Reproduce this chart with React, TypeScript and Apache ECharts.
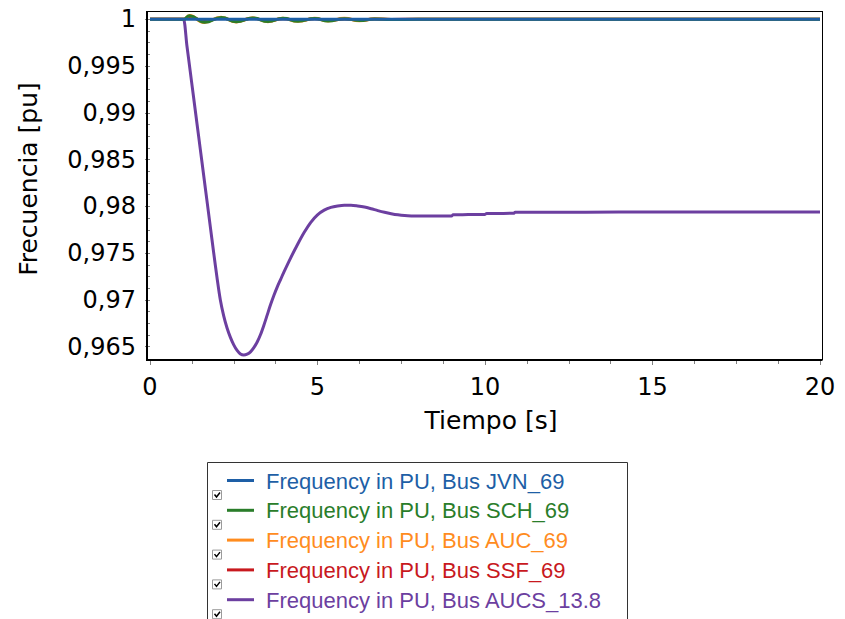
import React, { useEffect, useRef } from "react";
import * as echarts from "echarts";

// Tick setup
const xMin = 0;
const xMax = 20;
const xInterval = 5;
const yMin = 0.965;
const yMax = 1;
const yInterval = 0.005;

// Series names (legend order) and colours
const seriesNames = [
  "Frequency in PU, Bus JVN_69",
  "Frequency in PU, Bus SCH_69",
  "Frequency in PU, Bus AUC_69",
  "Frequency in PU, Bus SSF_69",
  "Frequency in PU, Bus AUCS_13.8",
];
const seriesColors = ["#1e5fa6", "#2a7d2a", "#ff8c1e", "#c8191e", "#6c3fa0"];

// Bus JVN_69
const timeJVN = [0, 20];
const freqJVN = [1, 1];

// Bus SCH_69
const timeSCH = [0, 0.95, 1.0, 1.185, 1.63, 2.13, 2.58, 3.07, 3.53, 3.97, 4.42, 4.92, 5.32, 5.81, 6.26, 6.7, 7.2, 8, 20];
const freqSCH = [1, 1, 1, 1.00038, 0.99968, 1.0002, 0.99973, 1.00014, 0.99976, 1.0001, 0.9998, 1.00008, 0.99982, 1.00007, 0.99986, 1.00004, 0.99998, 1, 1];

// Bus AUC_69
const timeAUC = [0, 0.95, 1.0, 1.18, 1.62, 2.12, 2.57, 3.06, 3.52, 3.96, 4.41, 4.91, 5.31, 5.8, 6.25, 6.7, 7.2, 8, 20];
const freqAUC = [1, 1, 1, 1.00041, 0.99967, 1.00022, 0.99972, 1.00015, 0.99975, 1.00011, 0.99979, 1.0001, 0.99981, 1.00011, 0.99984, 1.00007, 0.99997, 1, 1];

// Bus SSF_69
const timeSSF = [0, 0.95, 1.0, 1.185, 1.63, 2.13, 2.58, 3.07, 3.53, 3.97, 4.42, 4.92, 5.32, 5.81, 6.26, 6.7, 7.2, 8, 20];
const freqSSF = [1, 1, 1, 1.00026, 0.99978, 1.00014, 0.99981, 1.0001, 0.99983, 1.00007, 0.99986, 1.00005, 0.99988, 1.00004, 0.9999, 1.00002, 0.99999, 1, 1];

// Bus AUCS_13.8
const timeAUCS = [
  0, 0.95, 1.0, 1.1, 1.2, 1.3, 1.4, 1.5, 1.6, 1.7, 1.8, 1.9,
  2.0, 2.1, 2.2, 2.3, 2.4, 2.5, 2.6, 2.7, 2.8, 2.9,
  3.0, 3.1, 3.2, 3.3, 3.4, 3.5, 3.6, 3.7, 3.8, 3.9,
  4.0, 4.2, 4.4, 4.6, 4.8, 5.0, 5.2, 5.4, 5.6, 5.8,
  6.0, 6.2, 6.4, 6.6, 6.8, 7.0, 7.2, 7.4, 7.6, 7.8,
  8.0, 8.5, 9.0, 9.05, 9.5, 10.0, 10.05, 10.4, 10.85, 10.9, 12, 14, 16, 18, 20,
];
const freqAUCS = [
  1, 1, 1, 0.99723, 0.99446, 0.99169, 0.98892, 0.98615, 0.98338, 0.98061, 0.97784, 0.97507,
  0.9724, 0.97, 0.9683, 0.967, 0.966, 0.9652, 0.9646, 0.96422, 0.96411, 0.9642,
  0.96445, 0.9649, 0.9655, 0.9663, 0.9673, 0.9684, 0.9695, 0.9705, 0.9714, 0.9722,
  0.973, 0.9745, 0.9759, 0.9772, 0.9783, 0.9791, 0.9796, 0.9799, 0.98005, 0.98013,
  0.98013, 0.98005, 0.97993, 0.97975, 0.97955, 0.97937, 0.97922, 0.9791, 0.97902, 0.97898,
  0.97897, 0.97897, 0.97897, 0.97911, 0.97912, 0.97914, 0.97924, 0.97925, 0.97926, 0.97937, 0.97938, 0.97939, 0.97939, 0.97939, 0.97939,
];

const zip = (t: number[], v: number[]) => t.map((x, i) => [x, v[i]]);

const seriesTimes = [timeJVN, timeSCH, timeAUC, timeSSF, timeAUCS];
const seriesValues = [freqJVN, freqSCH, freqAUC, freqSSF, freqAUCS];

const AXIS_FONT = "'DejaVu Sans', sans-serif";
const LEGEND_FONT = "'Liberation Sans', Arial, sans-serif";

function buildLegend(): any[] {
  const els: any[] = [
    {
      type: "rect",
      shape: { x: 207.5, y: 462.5, width: 420, height: 200 },
      style: { fill: "#fff", stroke: "#333", lineWidth: 1 },
      z: 10,
    },
  ];
  seriesNames.forEach((name, i) => {
    const cy = 480.5 + i * 29.8;
    els.push({
      type: "line",
      shape: { x1: 227, y1: cy, x2: 254, y2: cy },
      style: { stroke: seriesColors[i], lineWidth: 3 },
      z: 11,
    });
    els.push({
      type: "text",
      x: 266,
      y: cy + 0.5,
      style: {
        text: name,
        fill: seriesColors[i],
        font: `22px ${LEGEND_FONT}`,
        align: "left",
        verticalAlign: "middle",
      },
      z: 11,
    });
    const by = cy + 10;
    els.push({
      type: "rect",
      shape: { x: 212.5, y: by, width: 9, height: 9 },
      style: { fill: "#fff", stroke: "#9a9a9a", lineWidth: 1 },
      z: 11,
    });
    els.push({
      type: "polyline",
      shape: { points: [[214.5, by + 4], [216.5, by + 6.5], [220, by + 2]] },
      style: { stroke: "#000", lineWidth: 1.5, fill: null },
      z: 12,
    });
  });
  return els;
}

function buildFrame(): any[] {
  return [
    { type: "line", shape: { x1: 147, y1: 11, x2: 147, y2: 361 }, style: { stroke: "#000", lineWidth: 2 }, z: 20 },
    { type: "line", shape: { x1: 146, y1: 360, x2: 822.5, y2: 360 }, style: { stroke: "#000", lineWidth: 2 }, z: 20 },
    { type: "line", shape: { x1: 147, y1: 11.5, x2: 822.5, y2: 11.5 }, style: { stroke: "#000", lineWidth: 1 }, z: 20 },
    { type: "line", shape: { x1: 822.5, y1: 11, x2: 822.5, y2: 360 }, style: { stroke: "#000", lineWidth: 1 }, z: 20 },
    {
      type: "text",
      x: 28.5,
      y: 179,
      rotation: Math.PI / 2,
      style: {
        text: "Frecuencia [pu]",
        fill: "#000",
        font: `25px ${AXIS_FONT}`,
        align: "center",
        verticalAlign: "middle",
      },
    },
    {
      type: "text",
      x: 491,
      y: 420,
      style: {
        text: "Tiempo [s]",
        fill: "#000",
        font: `25px ${AXIS_FONT}`,
        align: "center",
        verticalAlign: "middle",
      },
    },
  ];
}

export default function App() {
  const ref = useRef<HTMLDivElement>(null);

  useEffect(() => {
    document.body.style.margin = "0";
    if (!ref.current) return;
    const chart = echarts.init(ref.current, undefined, { renderer: "svg" });

    const drawOrder = [6, 5, 4, 3, 2];
    const series = seriesNames.map((name, i) => ({
      name,
      type: "line",
      data: zip(seriesTimes[i], seriesValues[i]),
      showSymbol: false,
      smooth: i === 0 ? false : i === 4 ? 0.3 : 0.5,
      clip: false,
      z: drawOrder[i],
      lineStyle: { color: seriesColors[i], width: 3 },
      itemStyle: { color: seriesColors[i] },
    }));

    chart.setOption({
      animation: false,
      backgroundColor: "#fff",
      grid: { left: 150, right: 25, top: 19.3, bottom: 272.3, containLabel: false },
      xAxis: {
        type: "value",
        min: xMin,
        max: xMax,
        interval: xInterval,
        offset: 13.3,
        axisLine: { show: false },
        axisTick: { show: true, length: 5, lineStyle: { color: "#808080", width: 1 } },
        minorTick: { show: true, splitNumber: 4, length: 4, lineStyle: { color: "#808080", width: 1 } },
        splitLine: { show: false },
        axisLabel: {
          margin: 15,
          fontFamily: AXIS_FONT,
          fontSize: 24,
          color: "#000",
        },
      },
      yAxis: {
        type: "value",
        min: yMin,
        max: yMax,
        interval: yInterval,
        offset: 3,
        axisLine: { show: false },
        axisTick: { show: true, length: 5, lineStyle: { color: "#808080", width: 1 } },
        minorTick: { show: true, splitNumber: 4, length: 4, lineStyle: { color: "#808080", width: 1 } },
        splitLine: { show: false },
        axisLabel: {
          margin: 11,
          fontFamily: AXIS_FONT,
          fontSize: 24,
          color: "#000",
          formatter: (v: number) => String(Number(v.toFixed(4))).replace(".", ","),
        },
      },
      series,
      graphic: [...buildFrame(), ...buildLegend()],
    });

    return () => chart.dispose();
  }, []);

  return <div ref={ref} style={{ width: 845, height: 619 }} />;
}
